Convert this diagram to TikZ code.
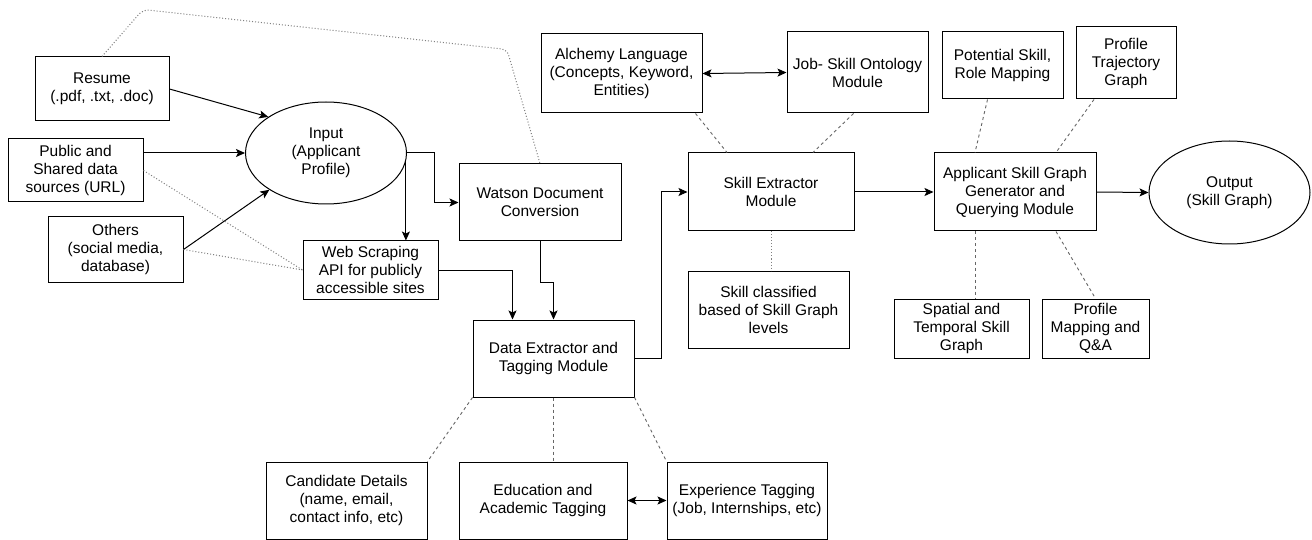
\documentclass[tikz,border=0pt]{standalone}
\usepackage{fontspec}
\setmainfont{Liberation Sans}
\usetikzlibrary{arrows.meta,positioning,shapes.geometric,calc}

\begin{document}
\begin{tikzpicture}[x=1pt, y=-1pt, font=\fontsize{15.5}{18}\selectfont,
  box/.style={draw, line width=1pt, align=center, inner sep=1pt},
  oval/.style={draw, ellipse, line width=1pt, align=center, inner sep=1pt, minimum width=161pt, minimum height=102pt},
  arr/.style={line width=1pt, -{Stealth[length=9pt,width=8pt,inset=2pt]}},
  biarr/.style={line width=1pt, {Stealth[length=9pt,width=8pt,inset=2pt]}-{Stealth[length=9pt,width=8pt,inset=2pt]}},
  dashlink/.style={black!60, line width=0.9pt, dash pattern=on 3pt off 3pt},
  dotlink/.style={black!50, line width=1pt, dotted}]
  \fill[white] (0,0) rectangle (1312,540);
  \useasboundingbox (0,0) rectangle (1312,540);

  % Sources and input
  \node[box,minimum width=134pt,minimum height=64pt] (resume) at (102,89) {Resume\\(.pdf, .txt, .doc)};
  \node[box,minimum width=135pt,minimum height=63pt] (public) at (75.5,170.5) {Public and\\Shared data\\sources (URL)};
  \node[box,minimum width=135pt,minimum height=65pt] (others) at (115.5,249.5) {Others\\(social media,\\database)};
  \node[oval] (input) at (326,153) {Input\\(Applicant\\Profile)};
  \node[box,minimum width=135pt,minimum height=58pt] (web) at (370.5,270) {Web Scraping\\API for publicly\\accessible sites};
  \node[box,minimum width=162pt,minimum height=77pt] (watson) at (540,202.5) {Watson Document\\Conversion};

  % Extraction
  \node[box,minimum width=161pt,minimum height=77pt] (data) at (553.5,358.5) {Data Extractor and\\Tagging Module};
  \node[box,minimum width=161pt,minimum height=77pt] (candidate) at (346.5,500.5) {Candidate Details\\(name, email,\\contact info, etc)};
  \node[box,minimum width=168pt,minimum height=77pt] (education) at (543,500.5) {Education and\\Academic Tagging};
  \node[box,minimum width=160pt,minimum height=77pt] (experience) at (747,500.5) {Experience Tagging\\(Job, Internships, etc)};
  \node[box,minimum width=161pt,minimum height=79pt] (alchemy) at (621.5,73.5) {Alchemy Language\\(Concepts, Keyword,\\Entities)};
  \node[box,minimum width=141pt,minimum height=81pt] (ontology) at (857.5,72.5) {Job- Skill Ontology\\Module};
  \node[box,minimum width=166pt,minimum height=78pt] (skillx) at (771,192) {Skill Extractor\\Module};
  \node[box,minimum width=161pt,minimum height=77pt] (classified) at (768.5,309.5) {Skill classified\\based of Skill Graph\\levels};

  % Skill graph and output
  \node[box,minimum width=121pt,minimum height=67pt] (potential) at (1002.5,65.5) {Potential Skill,\\Role Mapping};
  \node[box,minimum width=100pt,minimum height=72pt] (trajectory) at (1126,63) {Profile\\Trajectory\\Graph};
  \node[box,minimum width=162pt,minimum height=78pt] (applicant) at (1015,192) {Applicant Skill Graph\\Generator and\\Querying Module};
  \node[oval,minimum height=103pt] (output) at (1229.5,192.5) {Output\\(Skill Graph)};
  \node[box,minimum width=135pt,minimum height=59pt] (spatial) at (961.5,328.5) {Spatial and\\Temporal Skill\\Graph};
  \node[box,minimum width=107pt,minimum height=59pt] (mapping) at (1095.5,328.5) {Profile\\Mapping and\\Q\&A};

  % Arrows
  \draw[arr] (resume.east) -- (input.148);
  \draw[arr] (public.east |- input.west) -- (input.west);
  \draw[arr] (others.east) -- (input.213);
  \draw[arr] (input.-6) -- (input.-6 |- web.north);
  \draw[arr] (input.east) -- ++(27,0) |- (watson.west);
  \draw[arr] (web.east) -| ([xshift=40pt]data.north west);
  \draw[arr] (watson.south) -- ++(0,41) -| (data.north);
  \draw[arr] (data.east) -- ++(27,0) |- (skillx.west);
  \draw[arr] (skillx.east) -- (applicant.west);
  \draw[arr] (applicant.east) -- (output.west);
  \draw[biarr] (alchemy.east) -- (ontology.west);
  \draw[biarr] (education.east) -- (experience.west);

  % Dashed and dotted links
  \draw[dotlink, rounded corners=6pt] (resume.north) -- ++(41,-47) -- ++(364,40) -- (watson.north);
  \draw[dotlink] (public.east) -- (web.west);
  \draw[dotlink] (others.east) -- (web.west);
  \draw[dotlink] (skillx.south) -- (skillx.south |- classified.north);
  \draw[dashlink] ([xshift=-7pt]alchemy.south east) -- ([xshift=-44pt]skillx.north);
  \draw[dashlink] ([xshift=-4pt]ontology.south) -- ([xshift=42pt]skillx.north);
  \draw[dashlink] (data.south west) -- (candidate.north east);
  \draw[dashlink] (data.south) -- (data.south |- education.north);
  \draw[dashlink] (data.south east) -- (experience.north west);
  \draw[dashlink] ([xshift=-15pt]potential.south) -- ([xshift=-40pt]applicant.north);
  \draw[dashlink] ([xshift=-32pt]trajectory.south) -- ([xshift=41pt]applicant.north);
  \draw[dashlink] ([xshift=-40pt]applicant.south) -- ([xshift=-40pt]applicant.south |- spatial.north);
  \draw[dashlink] ([xshift=41pt]applicant.south) -- (mapping.north);
\end{tikzpicture}
\end{document}
